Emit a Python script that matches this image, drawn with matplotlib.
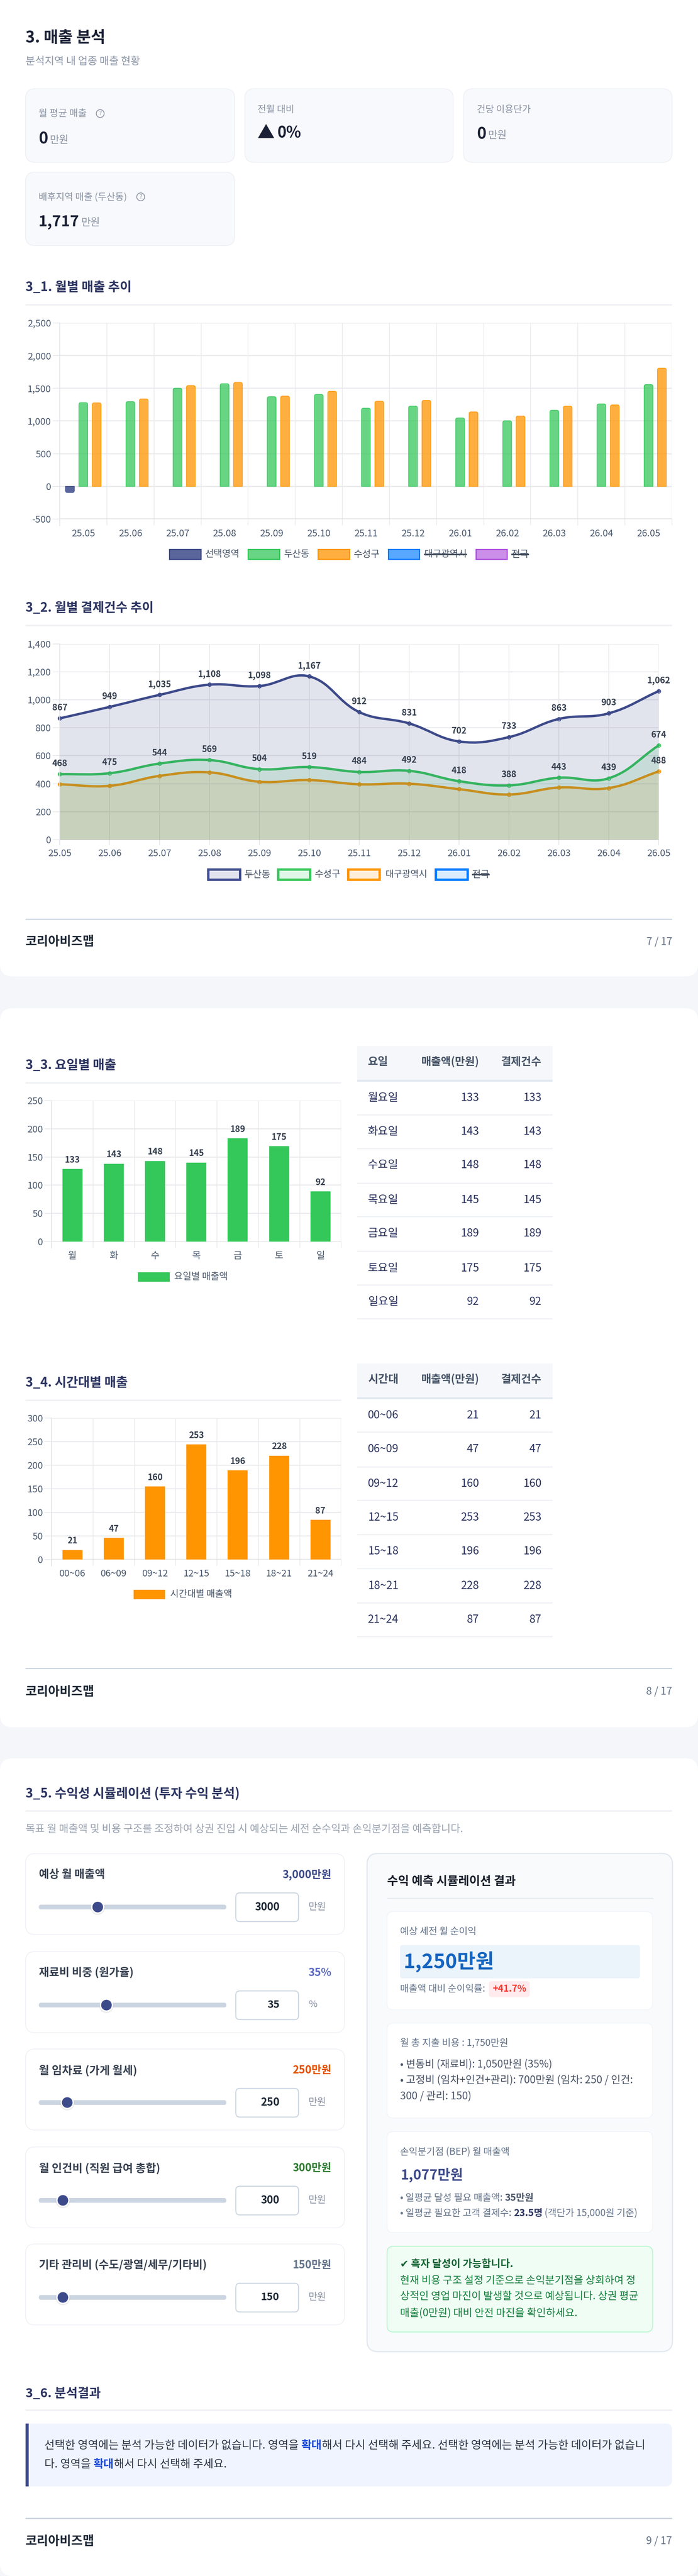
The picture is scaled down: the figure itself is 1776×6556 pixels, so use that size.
"""매출 분석 report pages drawn on one tall figure (1776x6556 px at dpi=100)."""
import matplotlib; matplotlib.use("Agg")
import matplotlib.pyplot as plt
import numpy as np
from matplotlib.patches import FancyBboxPatch, PathPatch, Circle, Rectangle
from matplotlib.path import Path

plt.rcParams["font.family"] = ["Noto Sans CJK KR", "DejaVu Sans"]

W, H = 1776, 6556
NAVY, GREEN, ORANGE, BLUE, PURPLE = "#3d4a8a", "#34c759", "#ff9500", "#007aff", "#af52de"
INK, TICK = "#2d3561", "#4a5a70"

months = ["25.05", "25.06", "25.07", "25.08", "25.09", "25.10", "25.11", "25.12",
          "26.01", "26.02", "26.03", "26.04", "26.05"]
# 3_1 monthly sales
sales_sel = [-94, 0, 0, 0, 0, 0, 0, 0, 0, 0, 0, 0, 0]
sales_dong = [1281, 1297, 1502, 1571, 1373, 1407, 1196, 1228, 1048, 1004, 1165, 1262, 1558]
sales_gu = [1278, 1338, 1543, 1590, 1382, 1455, 1303, 1316, 1140, 1077, 1228, 1247, 1810]
# 3_2 monthly payments
pay_dong = [867, 949, 1035, 1108, 1098, 1167, 912, 831, 702, 733, 863, 903, 1062]
pay_gu = [468, 475, 544, 569, 504, 519, 484, 492, 418, 388, 443, 439, 674]
pay_city = [396, 385, 456, 481, 414, 426, 396, 400, 361, 323, 373, 369, 488]
# 3_3 weekday: bars in the picture stop a little short of their labels
dow_short = ["월", "화", "수", "목", "금", "토", "일"]
dow_names = ["월요일", "화요일", "수요일", "목요일", "금요일", "토요일", "일요일"]
dow_vals = [133, 143, 148, 145, 189, 175, 92]
dow_bars = [128.6, 138, 143, 140, 183, 169, 88.8]
# 3_4 time of day
hour_names = ["00~06", "06~09", "09~12", "12~15", "15~18", "18~21", "21~24"]
hour_vals = [21, 47, 160, 253, 196, 228, 87]
hour_bars = [19.9, 45.1, 154.7, 244, 189, 220, 83.8]
# 3_5 sliders
slider_labels = ["예상 월 매출액", "재료비 비중 (원가율)", "월 임차료 (가게 월세)",
                 "월 인건비 (직원 급여 총합)", "기타 관리비 (수도/광열/세무/기타비)"]
slider_vals = [3000, 35, 250, 300, 150]
slider_max = [10000, 100, 2000, 3000, 1500]
slider_shown = ["3,000만원", "35%", "250만원", "300만원", "150만원"]
slider_units = ["만원", "%", "만원", "만원", "만원"]
slider_cols = [NAVY, "#5c6bc0", "#e65100", "#2e7d32", "#64748b"]
# rendered text widths (px)
label_w = [168, 241, 250, 309, 428]
shown_w = [125, 59, 99, 99, 99]
input_w = [64, 31, 48, 48, 47]
unit_w = [45, 22, 45, 45, 45]

fig = plt.figure(figsize=(W / 100, H / 100), dpi=100, facecolor="#f5f6fa")
bg = fig.add_axes([0, 0, 1, 1], zorder=0)
bg.set_xlim(0, W); bg.set_ylim(H, 0); bg.axis("off")
rend = fig.canvas.get_renderer()


def px(v):
    return v * 0.72


def T(x, y, s, size, color="#374151", weight="normal", ha="left", va="center", fit=None, **kw):
    t = bg.text(x, y, s, fontsize=px(size), color=color, fontweight=weight, ha=ha, va=va, **kw)
    if fit:  # scale the font so the string is as wide as in the reference
        t.set_fontsize(t.get_fontsize() * fit / t.get_window_extent(rend).width)
    return t


def box(x0, y0, x1, y1, r, fc, ec="none", lw=0, **kw):
    p = FancyBboxPatch((x0, y0), x1 - x0, y1 - y0, boxstyle=f"round,pad=0,rounding_size={r}",
                       fc=fc, ec=ec, lw=px(lw), **kw)
    bg.add_patch(p)
    return p


def hline(y, x0=65, x1=1710, color="#f0f1f5", lw=4):
    bg.add_patch(Rectangle((x0, y - lw / 2), x1 - x0, lw, fc=color, ec="none"))


def runs(x, y, parts, size, fit=None):
    # several styles on one baseline, each run starts where the last one ended
    if fit:
        x0 = x
        for s, col, wt in parts:
            t = T(x0, y, s, size, col, wt, va="baseline")
            x0 = bg.transData.inverted().transform(t.get_window_extent(rend))[1, 0]
            t.remove()
        size = size * fit / (x0 - x)
    for s, col, wt in parts:
        t = T(x, y, s, size, col, wt, va="baseline")
        x = bg.transData.inverted().transform(t.get_window_extent(rend))[1, 0]
    return x


def section(y, s, rule_y, fit, x1=1710):
    T(65, y, s, 30, INK, "bold", fit=fit)
    hline(rule_y, 65, x1)


def footer(y_line, y_text, page):
    hline(y_line, color="#cbd5e1", lw=3)
    T(65, y_text, "코리아비즈맵", 32, "#1f2937", "bold", fit=175)
    T(1710, y_text, page, 28, "#64748b", ha="right", fit=66)


def legend_item(x0, x1, y0, y1, tx, label, col, fill_alpha, lw, fit, strike=False):
    bg.add_patch(Rectangle((x0, y0), x1 - x0, y1 - y0, fc=matplotlib.colors.to_rgba(col, fill_alpha),
                           ec=col, lw=px(lw)))
    t = T(tx, (y0 + y1) / 2, label, 24, "#475569", fit=fit)
    if strike:
        e = bg.transData.inverted().transform(t.get_window_extent(rend))
        bg.plot([e[0, 0], e[1, 0]], [(y0 + y1) / 2] * 2, color="#374151", lw=px(3.5), solid_capstyle="butt")


def chart_axes(l, r, t, b, ylim, yticks):
    ax = fig.add_axes([l / W, 1 - b / H, (r - l) / W, (b - t) / H], zorder=2)
    ax.patch.set_alpha(0)
    ax.set_ylim(*ylim)
    ax.set_yticks(yticks, [f"{v:,}" for v in yticks])
    for s in ax.spines.values():
        s.set_visible(False)
    ax.spines["left"].set_visible(True); ax.spines["left"].set_color("#e2e4e8"); ax.spines["left"].set_linewidth(px(2))
    ax.set_axisbelow(True)
    ax.grid(axis="y", color="#e8e9ec", lw=px(2.5))
    ax.tick_params(axis="y", length=px(18), width=px(2), color="#e8e9ec", labelsize=px(24),
                   labelcolor=TICK, pad=px(4))
    return ax


def x_edges(ax, labels, tick_len, pad):
    # gridlines between categories, labels centred under them
    n = len(labels)
    ax.set_xlim(-0.5, n - 0.5)
    ax.set_xticks(np.arange(n + 1) - 0.5, [""] * (n + 1))
    ax.set_xticks(np.arange(n), labels, minor=True)
    ax.grid(axis="x", which="major", color="#e8e8e8", lw=px(1.5))
    ax.tick_params(axis="x", which="major", length=px(tick_len), width=px(1.5), color="#e8e8e8")
    ax.tick_params(axis="x", which="minor", length=0, labelsize=px(24), labelcolor=TICK, pad=px(pad))
    ax.get_ygridlines()[0].set_color("#d8d9dc")


def round_tops(ax, bars, r_px):
    # chart.js style rounded top corners on ax.bar rectangles (data coords, so scale r by axis)
    to_disp = ax.transData.transform
    for b in bars:
        x, y, w, h = b.get_x(), b.get_y(), b.get_width(), b.get_height()
        b.set_visible(False)
        if h == 0:
            continue
        rx = r_px * (to_disp((1, 0))[0] - to_disp((0, 0))[0]) ** -1
        ry = r_px * abs(to_disp((0, 1))[1] - to_disp((0, 0))[1]) ** -1
        ry = ry if h > 0 else -ry
        top = y + h
        verts = [(x, y), (x, top - ry), (x, top), (x + rx, top), (x + w - rx, top), (x + w, top),
                 (x + w, top - ry), (x + w, y), (x, y)]
        codes = [Path.MOVETO, Path.LINETO, Path.CURVE3, Path.CURVE3, Path.LINETO, Path.CURVE3,
                 Path.CURVE3, Path.LINETO, Path.CLOSEPOLY]
        ax.add_patch(PathPatch(Path(verts, codes), fc=b.get_facecolor(), ec=b.get_edgecolor(), lw=b.get_linewidth()))


def spline(xs, ys, sx, sy, tension=0.4):
    # chart.js "bezier" control points, worked out in pixel distances
    px_pts = np.column_stack([np.asarray(xs, float) * sx, np.asarray(ys, float) * sy])
    n = len(px_pts)
    verts = [tuple(px_pts[0])]
    codes = [Path.MOVETO]
    def cps(i):
        a, c, b = px_pts[max(i - 1, 0)], px_pts[i], px_pts[min(i + 1, n - 1)]
        d1, d2 = np.hypot(*(c - a)), np.hypot(*(b - c))
        s = d1 + d2
        return c - tension * d1 / s * (b - a), c + tension * d2 / s * (b - a)
    for i in range(n - 1):
        verts += [tuple(cps(i)[1]), tuple(cps(i + 1)[0]), tuple(px_pts[i + 1])]
        codes += [Path.CURVE4] * 3
    v = np.array(verts) / [sx, sy]
    return v, codes


def kpi(x0, y0, x1, y1, label, lab_w, tx, ly, big=None, big_w=None, vy=None, help_x=None):
    box(x0, y0, x1, y1, 24, "#f8f9fc", "#eef0f5", 2)
    T(tx, ly, label, 24, "#8a94a6", fit=lab_w)
    if help_x:
        bg.add_patch(Circle((help_x, ly), 10, fc="none", ec="#8a94a6", lw=px(2)))
        T(help_x, ly, "?", 15, "#8a94a6", ha="center")
    if big:
        t = T(tx, vy + 15, big, 42, "#1a2035", "bold", va="baseline", fit=big_w)
        end = bg.transData.inverted().transform(t.get_window_extent(rend))[1, 0]
        T(end + 5, vy + 6, "만원", 26, "#8a94a6", fit=48)


# ---- page backgrounds
box(0, -60, W, 2485, 32, "white", zorder=0)
box(0, 2566, W, 4396, 32, "white", zorder=0)
box(0, 4475, W, H, 32, "white", zorder=0)

# ---- page 7
T(65, 97, "3. 매출 분석", 36, "#1a2035", "bold", fit=203)
T(65, 156, "분석지역 내 업종 매출 현황", 26, "#8a94a6", fit=291)
kpi(65, 226, 597, 413, "월 평균 매출", 123, 98, 289, "0", 24, 350, help_x=255)
kpi(623, 226, 1153, 413, "전월 대비", 94, 655, 279)
T(655, 339, "▲", 44, "#1a2035", "bold")
T(705, 339, "0%", 42, "#1a2035", "bold", fit=61)
kpi(1179, 226, 1710, 413, "건당 이용단가", 138, 1213, 279, "0", 24, 339)
kpi(65, 438, 597, 625, "배후지역 매출 (두산동)", 226, 98, 501, "1,717", 104, 561, help_x=358)

section(732, "3_1. 월별 매출 추이", 776, 270)
ax = chart_axes(152, 1710, 822, 1321, (-500, 2500), [-500, 0, 500, 1000, 1500, 2000, 2500])
ax.set_ylim(-500, 2500)
x_edges(ax, months, 16, 26)
ax.spines["left"].set_bounds(-600, 2500)
xpos = np.arange(len(months))
bw, off = 22.5 / 119.8, 34 / 119.8
fig.canvas.draw()
for i, (vals, col, a) in enumerate([(sales_sel, NAVY, 0.85), (sales_dong, GREEN, 0.75), (sales_gu, ORANGE, 0.75)]):
    bars = ax.bar(xpos + (i - 1) * off, vals, bw, fc=matplotlib.colors.to_rgba(col, a), ec=col, lw=px(1.5))
    round_tops(ax, bars, 5)
ax.set_ylim(-500, 2500)

legend_item(431, 511, 1398, 1423, 522, "선택영역", NAVY, 0.85, 3, 88)
legend_item(631, 711, 1398, 1423, 723, "두산동", GREEN, 0.75, 3, 65)
legend_item(809, 889, 1398, 1423, 900, "수성구", ORANGE, 0.75, 3, 67)
legend_item(988, 1067, 1398, 1423, 1079, "대구광역시", BLUE, 0.65, 3, 109, strike=True)
legend_item(1211, 1290, 1398, 1423, 1301, "전국", PURPLE, 0.65, 3, 45, strike=True)

section(1548, "3_2. 월별 결제건수 추이", 1591.5, 326)
ax = chart_axes(152, 1676, 1638.5, 2137, (0, 1400), [0, 200, 400, 600, 800, 1000, 1200, 1400])
xp = np.arange(len(months))
ax.set_xlim(0, len(months) - 1)
ax.set_xticks(xp, months)
ax.grid(axis="x", color="#e8e8e8", lw=px(2))
ax.tick_params(axis="x", length=px(14), width=px(2), color="#e8e8e8", labelsize=px(24), labelcolor=TICK, pad=px(10))
ax.get_ygridlines()[0].set_color("#d8d9dc")
ax.spines["left"].set_bounds(-34, 1400); ax.spines["left"].set_clip_on(False)
sx, sy = 1524 / 12, 498.5 / 1400
for vals, col in [(pay_city, ORANGE), (pay_gu, GREEN), (pay_dong, NAVY)]:
    v, codes = spline(xp, vals, sx, sy)
    fill_v = np.vstack([v, [xp[-1], 0], [xp[0], 0], v[0]])
    fill_c = codes + [Path.LINETO, Path.LINETO, Path.CLOSEPOLY]
    ax.add_patch(PathPatch(Path(fill_v, fill_c), fc=matplotlib.colors.to_rgba(col, 0.15), ec="none", zorder=2))
    ax.add_patch(PathPatch(Path(v, codes), fc="none", ec=col, lw=px(6), zorder=2, clip_on=False, capstyle="round"))
    ax.plot(xp, vals, "o", ms=px(9), mec=col, mew=px(2), mfc=matplotlib.colors.to_rgba(col, 0.15), zorder=2, clip_on=False)
for vals in [pay_dong, pay_gu]:
    for x, val in zip(xp, vals):
        ax.annotate(f"{val:,}", (x, val), xytext=(0, px(27)), textcoords="offset points", ha="center", va="center",
                    fontsize=px(22), fontweight="bold", color="#374151", zorder=5, annotation_clip=False)
ax.annotate(f"{pay_city[-1]:,}", (xp[-1], pay_city[-1]), xytext=(0, px(27)), textcoords="offset points", ha="center",
            va="center", fontsize=px(22), fontweight="bold", color="#374151", zorder=5, annotation_clip=False)

legend_item(530, 611, 2213, 2239, 622, "두산동", NAVY, 0.15, 6, 67)
legend_item(708, 789, 2213, 2239, 801, "수성구", GREEN, 0.15, 6, 66)
legend_item(886, 966, 2213, 2239, 980, "대구광역시", ORANGE, 0.15, 6, 107)
legend_item(1109, 1190, 2213, 2239, 1201, "전국", BLUE, 0.15, 6, 45, strike=True)
footer(2339, 2397, "7 / 17")


# ---- page 8
def bar_block(top, zero, ymax, bars, vals, names, col):
    ax = chart_axes(131.4, 868, top, zero, (0, ymax), list(range(0, ymax + 1, 50)))
    x_edges(ax, names, 16, 25)
    ax.spines["left"].set_bounds(-16 * ymax / (zero - top), ymax)
    ax.set_ylim(0, ymax)
    x = np.arange(len(names))
    ax.bar(x, bars, 51 / 105.2, color=col)
    for xi, b, v in zip(x, bars, vals):
        ax.annotate(str(v), (xi, b), xytext=(0, px(23)), textcoords="offset points", ha="center", va="center",
                    fontsize=px(22), fontweight="bold", color="#374151", annotation_clip=False)
    return ax


def table(head, head_w, ys, dividers, h0, h1, hy, first, second):
    bg.add_patch(Rectangle((908.5, h0), 497.5, h1 - h0, fc="#f5f7fa", ec="none"))
    hline(h1 + 2, 908.5, 1406, "#e2e8f0", 5)
    T(936, hy, head, 28, "#475569", "bold", fit=head_w)
    T(1219, hy, "매출액(만원)", 28, "#475569", "bold", ha="right", fit=148)
    T(1378, hy, "결제건수", 28, "#475569", "bold", ha="right", fit=103)
    for y, a, b in zip(ys, first, second):
        T(936, y, a, 28, INK, fit=78)
        T(1219, y, str(b), 28, INK, ha="right")
        T(1378, y, str(b), 28, INK, ha="right")
    for y in dividers:
        hline(y, 908.5, 1406, "#f0f1f5", 3)


section(2711, "3_3. 요일별 매출", 2756, 231, 868)
bar_block(2801, 3160, 250, dow_bars, dow_vals, dow_short, GREEN)
legend_item(351, 432, 3238, 3262, 443, "요일별 매출액", GREEN, 1, 0, 137)
table("요일", 52, [2793.6, 2880, 2965, 3054, 3139, 3228, 3313], [2837, 2923, 3011, 3096.5, 3184, 3270, 3356],
      2662, 2748, 2703, dow_names, dow_vals)

section(3520, "3_4. 시간대별 매출", 3564, 260, 868)
bar_block(3609, 3968.5, 300, hour_bars, hour_vals, hour_names, ORANGE)
legend_item(340, 420, 4046, 4070, 433, "시간대별 매출액", ORANGE, 1, 0, 158)
table("시간대", 78, [3602, 3688, 3776, 3862, 3948, 4036, 4122], [3644.5, 3733, 3818, 3905, 3992, 4079, 4165],
      3470, 3556, 3511, hour_names, hour_vals)
footer(4246, 4306, "8 / 17")

# ---- page 9
T(65, 4565, "3_5. 수익성 시뮬레이션 (투자 수익 분석)", 32, INK, "bold", fit=545)
hline(4609)
T(65, 4655.5, "목표 월 매출액 및 비용 구조를 조정하여 상권 진입 시 예상되는 세전 순수익과 손익분기점을 예측합니다.", 26, "#9aa3b2", fit=1112)

tops = [4717.5, 4967, 5215, 5464, 5711]
for k, top in enumerate(tops):
    box(65, top, 877, top + 206, 24, "white", "#eff1f6", 2)
    T(98.7, top + 54, slider_labels[k], 28, "#374151", "bold", fit=label_w[k])
    T(843, top + 54, slider_shown[k], 30, slider_cols[k], "bold", ha="right", fit=shown_w[k])
    ty = top + 136
    box(98.7, ty - 6, 576, ty + 6, 6, "#cbd5e1")
    cx = 115.7 + slider_vals[k] / slider_max[k] * 443.3
    bg.add_patch(Circle((cx, ty + 2), 18, fc=(0, 0, 0, 0.08), ec="none"))
    bg.add_patch(Circle((cx, ty), 17, fc="white", ec="none"))
    bg.add_patch(Circle((cx, ty), 13.5, fc=NAVY, ec="none"))
    box(600, top + 100, 759.5, top + 173, 10, "white", "#cbd5e1", 2.5)
    T(711, top + 136, str(slider_vals[k]), 30, "#1f2937", "bold", ha="right", fit=input_w[k])
    T(785, top + 135, slider_units[k], 26, "#8a94a6", fit=unit_w[k])

box(934, 4717, 1711, 5985, 28, "#f8fafc", "#e2e8f0", 3)
T(985, 4788, "수익 예측 시뮬레이션 결과", 28, "#1a202c", "bold", fit=327)
hline(4831, 985, 1662, "#e2e8f0", 2)

box(985, 4865, 1660.5, 5115, 16, "white", "#f1f5f9", 2)
T(1018, 4916, "예상 세전 월 순이익", 24, "#64748b", fit=195)
box(1018, 4950.5, 1628, 5035, 6, "#ebf3fb")
T(1027, 4993, "1,250만원", 53, "#1565c0", "bold", fit=231)
T(1018, 5062, "매출액 대비 순이익률:", 24, "#64748b", fit=217)
box(1244, 5042, 1348, 5083, 8, "#ffebee")
T(1296, 5062, "+41.7%", 24, "#ff3b30", "bold", ha="center", fit=86)

box(985, 5149, 1660.5, 5390.5, 16, "white", "#f1f5f9", 2)
T(1018, 5200, "월 총 지출 비용 : 1,750만원", 24, "#64748b", fit=275)
T(1018, 5253.6, "• 변동비 (재료비): 1,050만원 (35%)", 26, "#4a5568", fit=387)
T(1018, 5294, "• 고정비 (임차+인건+관리): 700만원 (임차: 250 / 인건:", 26, "#4a5568", fit=592)
T(1018, 5335, "300 / 관리: 150)", 26, "#4a5568", fit=181)

box(985, 5425, 1660.5, 5682, 16, "white", "#f1f5f9", 2)
T(1018, 5476.6, "손익분기점 (BEP) 월 매출액", 24, "#64748b", fit=279)
T(1019, 5536, "1,077만원", 37, NAVY, "bold", fit=159)
runs(1018, 5601, [("• 일평균 달성 필요 매출액: ", "#64748b", "normal"), ("35만원", "#4a5568", "bold")], 24, fit=340)
runs(1018, 5640, [("• 일평균 필요한 고객 결제수: ", "#64748b", "normal"), ("23.5명", INK, "bold"),
                  (" (객단가 15,000원 기준)", "#64748b", "normal")], 24, fit=605)

box(985, 5717, 1660.5, 5935, 16, "#f0fdf4", "#bbf7d0", 2.5)
T(1018, 5762, "✔ 흑자 달성이 가능합니다.", 26, "#166534", "bold", fit=287)
T(1018, 5804, "현재 비용 구조 설정 기준으로 손익분기점을 상회하여 정", 26, "#15803d", fit=599)
T(1018, 5845, "상적인 영업 마진이 발생할 것으로 예상됩니다. 상권 평균", 26, "#15803d", fit=607)
T(1018, 5887, "매출(0만원) 대비 안전 마진을 확인하세요.", 26, "#15803d", fit=450)

section(6092, "3_6. 분석결과", 6134, 191)
box(65, 6168, 1710, 6328, 16, "#f0f4ff")
bg.add_patch(Rectangle((65, 6168), 20, 160, fc="#f0f4ff", ec="none"))
bg.add_patch(Rectangle((65, 6168), 7.5, 160, fc=NAVY, ec="none"))
runs(113, 6232, [("선택한 영역에는 분석 가능한 데이터가 없습니다. 영역을 ", "#2d3748", "normal"), ("확대", "#1d4ed8", "bold"),
                 ("해서 다시 선택해 주세요. 선택한 영역에는 분석 가능한 데이터가 없습니", "#2d3748", "normal")], 27, fit=1529)
runs(113, 6280, [("다. 영역을 ", "#2d3748", "normal"), ("확대", "#1d4ed8", "bold"),
                 ("해서 다시 선택해 주세요.", "#2d3748", "normal")], 27, fit=464)
footer(6409, 6468, "9 / 17")

fig.savefig("out.png", dpi=100, facecolor=fig.get_facecolor())
print("saved out.png")
